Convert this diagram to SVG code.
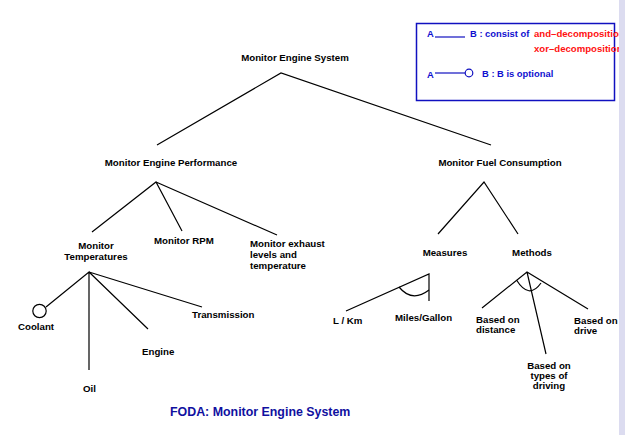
<svg xmlns="http://www.w3.org/2000/svg" width="625" height="435" viewBox="0 0 625 435">
<style>
.t{font-family:"Liberation Sans",Arial,sans-serif;font-weight:bold;font-size:9.7px;fill:#000}
.b{font-family:"Liberation Sans",Arial,sans-serif;font-weight:bold;font-size:9.4px;fill:#1010d0}
.r{font-family:"Liberation Sans",Arial,sans-serif;font-weight:bold;font-size:9.6px;fill:#ff1010}
.c{stroke:#000;stroke-width:1.2;fill:none}
.m{text-anchor:middle}
</style>
<rect x="0" y="0" width="625" height="435" fill="#fff"/>
<g id="legend">
<rect x="416.5" y="23.5" width="198" height="77" fill="none" stroke="#1010c0" stroke-width="1.5"/>
<text class="b" x="427" y="37">A</text>
<line x1="435" y1="37" x2="465" y2="37" stroke="#1010c0" stroke-width="1.2"/>
<text class="b" x="470" y="37">B : consist of</text>
<text class="r" x="534" y="37">and–decomposition</text>
<text class="r" x="534" y="52">xor–decomposition</text>
<text class="b" x="427" y="78">A</text>
<line x1="435" y1="73" x2="465" y2="73" stroke="#1010c0" stroke-width="1.2"/>
<circle cx="469" cy="73" r="3.8" fill="#fff" stroke="#1010c0" stroke-width="1.2"/>
<text class="b" x="482" y="77">B :</text>
<text class="b" x="497" y="77">B is optional</text>
</g>
<rect x="619" y="0" width="6" height="435" fill="#dcdcf0"/>
<g id="connectors">
<path class="c" d="M157,145 L281,73 L491,145"/>
<path class="c" d="M92,232 L156,182 L182,231 M156,182 L277,235"/>
<path class="c" d="M438,234 L484,182 L518,234"/>
<path class="c" d="M46,307 L89,272 L89,370 M89,272 L148,329 M89,272 L202,307"/>
<circle class="c" cx="39.5" cy="311" r="6.7"/>
<path class="c" d="M346,311 L429,274 L429,301"/>
<path class="c" d="M399,287 Q412,303 429,290"/>
<path class="c" d="M482,308 L527,272 L588,309 M527,272 L546,354"/>
<path class="c" d="M516.5,280 Q529,300 541,283"/>
</g>
<g id="n-root"><text class="t m" x="295" y="61">Monitor Engine System</text></g>
<g id="n-perf"><text class="t m" x="171" y="166">Monitor Engine Performance</text></g>
<g id="n-fuel"><text class="t m" x="500" y="166">Monitor Fuel Consumption</text></g>
<g id="n-temp"><text class="t m" x="96" y="249">Monitor</text><text class="t m" x="96" y="260">Temperatures</text></g>
<g id="n-rpm"><text class="t" x="154" y="244">Monitor RPM</text></g>
<g id="n-exh"><text class="t" x="250" y="247">Monitor exhaust</text><text class="t" x="250" y="258">levels and</text><text class="t" x="250" y="269">temperature</text></g>
<g id="n-coolant"><text class="t" x="18" y="330">Coolant</text></g>
<g id="n-oil"><text class="t" x="83" y="392">Oil</text></g>
<g id="n-engine"><text class="t" x="142" y="355">Engine</text></g>
<g id="n-trans"><text class="t" x="192" y="318">Transmission</text></g>
<g id="n-meas"><text class="t m" x="445" y="256">Measures</text></g>
<g id="n-meth"><text class="t m" x="532" y="256">Methods</text></g>
<g id="n-lkm"><text class="t" x="333" y="324">L / Km</text></g>
<g id="n-mpg"><text class="t" x="395" y="321">Miles/Gallon</text></g>
<g id="n-dist"><text class="t" x="476" y="322.5">Based on</text><text class="t" x="476" y="332.5">distance</text></g>
<g id="n-drive"><text class="t" x="574" y="323.5">Based on</text><text class="t" x="574" y="333.5">drive</text></g>
<g id="n-types"><text class="t m" x="549" y="368.5">Based on</text><text class="t m" x="549" y="378.5">types of</text><text class="t m" x="549" y="388.5">driving</text></g>
<text x="170" y="416" style="font-family:'Liberation Sans',Arial,sans-serif;font-weight:bold;font-size:12.4px;fill:#1010a0">FODA: Monitor Engine System</text>
</svg>
